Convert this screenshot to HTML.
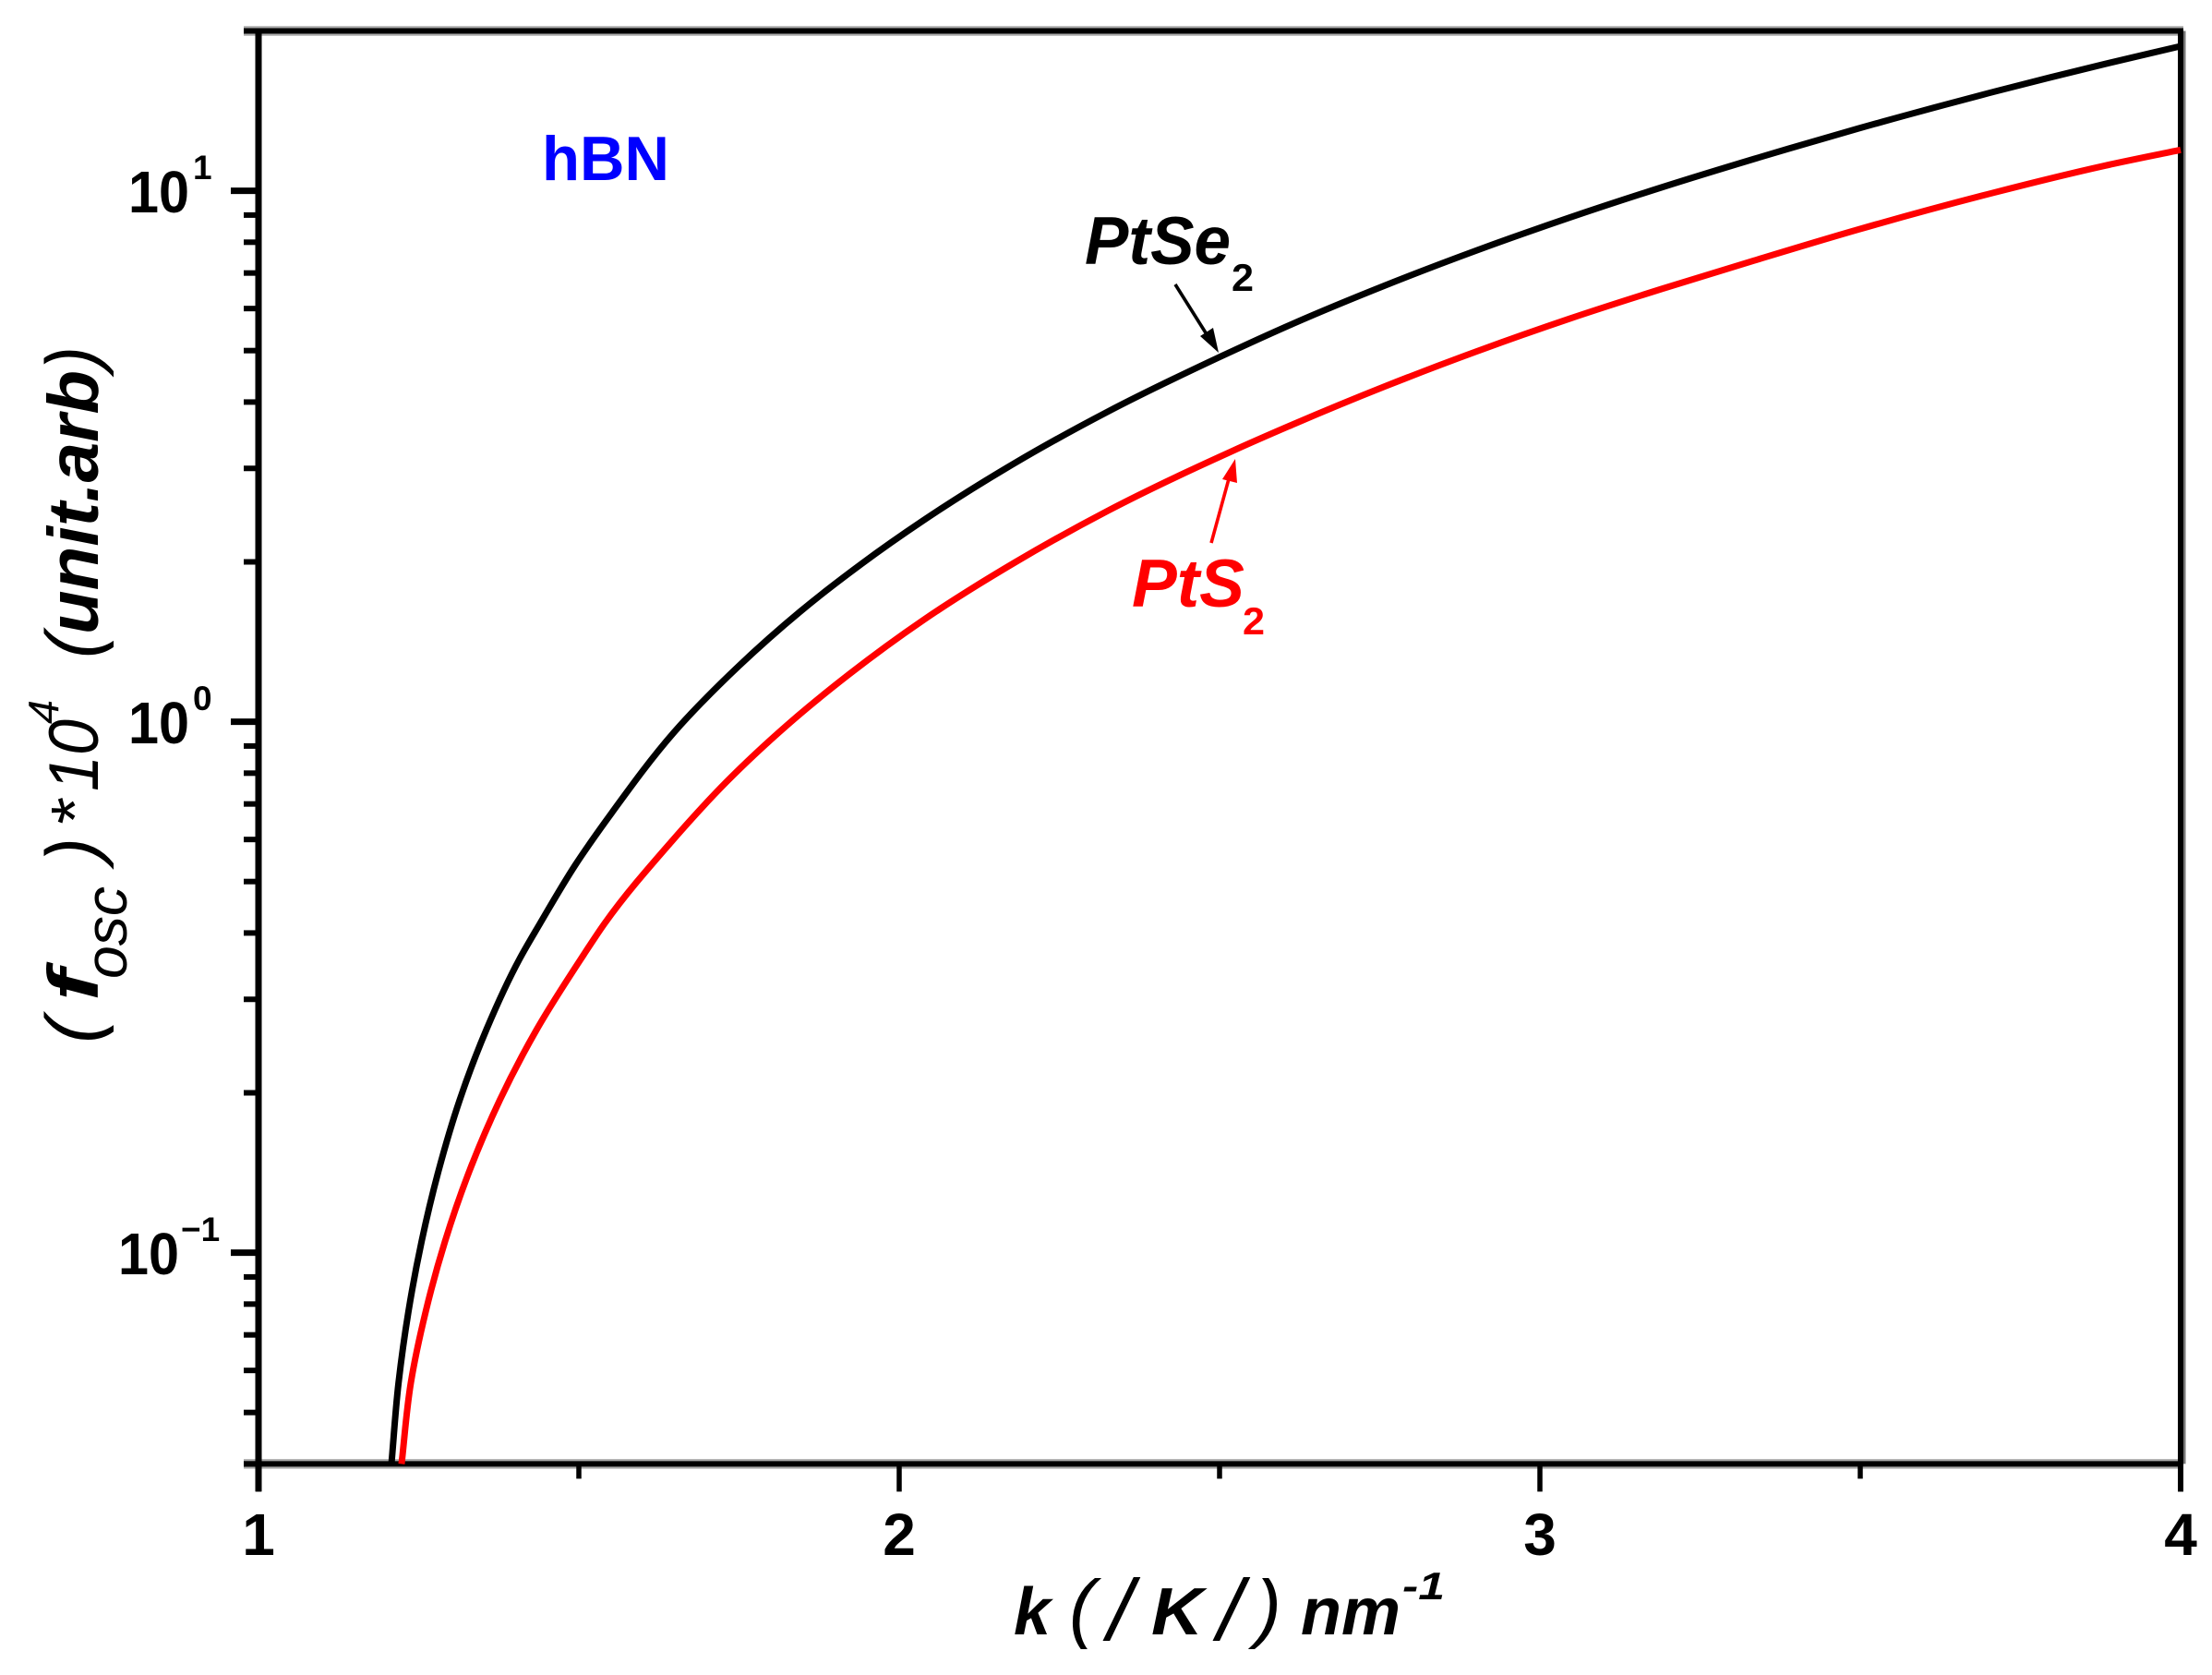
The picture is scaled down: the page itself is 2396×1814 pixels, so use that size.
<!DOCTYPE html>
<html lang="en">
<head>
<meta charset="utf-8">
<title>hBN oscillator strength vs k</title>
<style>
html,body{margin:0;padding:0;background:#fff;width:2396px;height:1814px;overflow:hidden}
svg{display:block;font-family:"Liberation Sans",Arial,sans-serif}
</style>
</head>
<body>
<svg id="chart" xmlns="http://www.w3.org/2000/svg" width="2396" height="1814" viewBox="0 0 2396 1814">
  <rect x="0" y="0" width="2396" height="1814" fill="#fff"/>
  <g id="axes"></g>
  <g id="series"></g>

  <text x="587" y="195" font-size="68" font-weight="700" fill="#0000ff" textLength="138" lengthAdjust="spacingAndGlyphs">hBN</text>

  <g>
    <text x="1175" y="286" font-size="73" font-weight="700" font-style="italic" fill="#000" textLength="158" lengthAdjust="spacingAndGlyphs">PtSe</text>
    <text x="1334" y="315" font-size="42" font-weight="700" fill="#000" textLength="24" lengthAdjust="spacingAndGlyphs">2</text>
    <line x1="1273" y1="308" x2="1312" y2="370" stroke="#000" stroke-width="3.6"/>
    <polygon points="1320,382 1300,364 1314,355" fill="#000"/>
  </g>

  <g>
    <text x="1226" y="657" font-size="73" font-weight="700" font-style="italic" fill="#ff0000" textLength="122" lengthAdjust="spacingAndGlyphs">PtS</text>
    <text x="1346" y="687" font-size="42" font-weight="700" fill="#ff0000" textLength="24" lengthAdjust="spacingAndGlyphs">2</text>
    <line x1="1312" y1="588" x2="1332" y2="515" stroke="#ff0000" stroke-width="3.6"/>
    <polygon points="1338,497 1340,523 1324,519" fill="#ff0000"/>
  </g>

  <g fill="#000">
    <text x="1098" y="1770" font-size="72" font-weight="700" font-style="italic" textLength="40" lengthAdjust="spacingAndGlyphs">k</text>
    <text x="1158" y="1769" font-size="83" font-style="italic" textLength="28" lengthAdjust="spacingAndGlyphs">(</text>
    <text x="1200" y="1776" font-size="94" font-style="italic" textLength="27" lengthAdjust="spacingAndGlyphs">/</text>
    <text x="1247" y="1770" font-size="72" font-weight="700" font-style="italic" textLength="56" lengthAdjust="spacingAndGlyphs">K</text>
    <text x="1319" y="1776" font-size="94" font-style="italic" textLength="27" lengthAdjust="spacingAndGlyphs">/</text>
    <text x="1360" y="1769" font-size="83" font-style="italic" textLength="28" lengthAdjust="spacingAndGlyphs">)</text>
    <text x="1409" y="1770" font-size="72" font-weight="700" font-style="italic" textLength="108" lengthAdjust="spacingAndGlyphs">nm</text>
    <text x="1519" y="1732" font-size="42" font-weight="700" font-style="italic" textLength="46" lengthAdjust="spacingAndGlyphs">-1</text>
  </g>

  <g fill="#000">
    <text transform="translate(106,1130) rotate(-90)" font-size="81" font-style="italic" textLength="28" lengthAdjust="spacingAndGlyphs">(</text>
    <text transform="translate(106,1084) rotate(-90)" font-size="77" font-weight="700" font-style="italic" textLength="34" lengthAdjust="spacingAndGlyphs">f</text>
    <text transform="translate(137,1060) rotate(-90)" font-size="64" font-style="italic" textLength="100" lengthAdjust="spacingAndGlyphs">osc</text>
    <text transform="translate(106,934) rotate(-90)" font-size="81" font-style="italic" textLength="27" lengthAdjust="spacingAndGlyphs">)</text>
    <text transform="translate(106,896) rotate(-90)" font-size="72" font-style="italic" textLength="30" lengthAdjust="spacingAndGlyphs">*</text>
    <text transform="translate(106,857) rotate(-90)" font-size="76" font-style="italic" textLength="78" lengthAdjust="spacingAndGlyphs">10</text>
    <text transform="translate(63,784) rotate(-90)" font-size="46" font-style="italic" textLength="26" lengthAdjust="spacingAndGlyphs">4</text>
    <text transform="translate(106,713) rotate(-90)" font-size="81" font-style="italic" textLength="27" lengthAdjust="spacingAndGlyphs">(</text>
    <text transform="translate(106,687) rotate(-90)" font-size="77" font-weight="700" font-style="italic" textLength="286" lengthAdjust="spacingAndGlyphs">unit.arb</text>
    <text transform="translate(106,401) rotate(-90)" font-size="81" font-style="italic" textLength="26" lengthAdjust="spacingAndGlyphs">)</text>
  </g>
</svg>

<script>
const ptse2K = [1.2075,1.2186,1.2339,1.2546,1.281,1.3141,1.3559,1.4078,1.4395,1.4942,1.5523,1.6484,1.7493,1.8454,1.9409,2.0375,2.1816,2.3256,2.4986,2.6138,2.7579,2.902,3.0461,3.1902,3.3343,3.4971,3.6902,3.8818,4.0];
const ptse2F = [0.04,0.0569,0.0773,0.105,0.1426,0.194,0.2634,0.358,0.417,0.5366,0.676,0.9546,1.272,1.612,1.982,2.393,3.076,3.837,4.853,5.614,6.63,7.727,8.90,10.15,11.48,13.10,15.16,17.33,18.72];
const pts2K = [1.2233,1.2378,1.2608,1.2911,1.3293,1.3768,1.4344,1.5036,1.5403,1.6437,1.7301,1.8256,1.9222,2.0375,2.1816,2.3256,2.5173,2.6138,2.7579,2.902,3.0461,3.1902,3.3343,3.4971,3.6902,3.8818,4.0];
const pts2F = [0.04,0.0569,0.0773,0.105,0.1426,0.194,0.2634,0.358,0.417,0.5929,0.7697,0.9865,1.2295,1.5535,1.9985,2.4961,3.224,3.627,4.28,4.986,5.741,6.534,7.388,8.455,9.79,11.15,11.94];
const xMajorTicks = [1,2,3,4];
const xMinorTicks = [1.5,2.5,3.5];
const xTickLabels = ["1","2","3","4"];
const yMajorTicks = [10,1,0.1];
const yTickExponents = ["1","0","\u22121"];
const yMinorTicks = [20,9,8,7,6,5,4,3,2,0.9,0.8,0.7,0.6,0.5,0.4,0.3,0.2,0.09,0.08,0.07,0.06,0.05,0.04];

const NS = "http://www.w3.org/2000/svg";
function xScale(k){ return 280 + (k - 1) * 694; }
function yScale(v){ return 206.6 + (1 - Math.log10(v)) * 575; }

function make(tag, attrs, parent){
  const el = document.createElementNS(NS, tag);
  for (const key in attrs) el.setAttribute(key, attrs[key]);
  parent.appendChild(el);
  return el;
}

const axes = document.getElementById("axes");
const seriesLayer = document.getElementById("series");

const left = xScale(1), right = xScale(4), top_ = yScale(20), bottom = yScale(0.04);

/* frame */
const topHalo = make("line", {x1:264, x2:right+3, y1:top_, y2:top_, stroke:"#aaaaaa", "stroke-width":10.5}, axes);


const bottomHalo = make("line", {x1:264, x2:right+3, y1:bottom, y2:bottom, stroke:"#aaaaaa", "stroke-width":10.5}, axes);


const rightHalo = make("line", {x1:right+1.5, x2:right+1.5, y1:top_, y2:bottom, stroke:"#777777", "stroke-width":8}, axes);



const topAxis = make("line", {x1:264, x2:right+3, y1:top_, y2:top_, stroke:"#000", "stroke-width":6}, axes);


const bottomAxis = make("line", {x1:264, x2:right+3, y1:bottom, y2:bottom, stroke:"#000", "stroke-width":6}, axes);


const leftAxis = make("line", {x1:left, x2:left, y1:top_-3, y2:bottom+30, stroke:"#000", "stroke-width":7}, axes);


const rightAxis = make("line", {x1:right, x2:right, y1:top_, y2:bottom+30, stroke:"#000", "stroke-width":6}, axes);



/* x ticks */
xMajorTicks.forEach(function(k, i){
  const tick = make("line", {x1:xScale(k), x2:xScale(k), y1:bottom, y2:bottom+30, stroke:"#000", "stroke-width":5.5}, axes);
  
  
  const label = make("text", {x:xScale(k), y:1684, "font-size":64, "font-weight":700, "text-anchor":"middle", fill:"#000"}, axes);
  
  
  label.textContent = xTickLabels[i];
});
xMinorTicks.forEach(function(k){
  const tick = make("line", {x1:xScale(k), x2:xScale(k), y1:bottom, y2:bottom+16, stroke:"#000", "stroke-width":5.5}, axes);
  
  
});

/* y ticks */
yMajorTicks.forEach(function(v, i){
  const y = yScale(v);
  const negative = yTickExponents[i].length > 1;
  const tick = make("line", {x1:250, x2:left, y1:y, y2:y, stroke:"#000", "stroke-width":7}, axes);
  
  
  const base = make("text", {x:negative ? 194 : 205, y:y+23.5, "font-size":64, "font-weight":700, "text-anchor":"end", fill:"#000", textLength:66, lengthAdjust:"spacingAndGlyphs"}, axes);
  
  
  base.textContent = "10";
  const exp = make("text", {x:negative ? 196 : 209, y:y-12.5, "font-size":37, "font-weight":700, fill:"#000"}, axes);
  
  
  exp.textContent = yTickExponents[i];
});
yMinorTicks.forEach(function(v){
  const y = yScale(v);
  const tick = make("line", {x1:264, x2:left, y1:y, y2:y, stroke:"#000", "stroke-width":6}, axes);
  
  
});

/* curves: cubic segments, tangents weighted toward the shorter neighbouring chord */
function curvePath(ks, vs){
  const pts = ks.map(function(k, i){ return [xScale(k), yScale(vs[i])]; });
  function dist(a, b){ return Math.hypot(a[0]-b[0], a[1]-b[1]); }
  function tangent(i){
    if (i === 0 || i === pts.length - 1){
      const a = pts[Math.max(i-1, 0)], b = pts[Math.min(i+1, pts.length-1)];
      const len = dist(a, b) || 1;
      return [(b[0]-a[0]) / len, (b[1]-a[1]) / len];
    }
    const p0 = pts[i-1], p1 = pts[i], p2 = pts[i+1];
    const d1 = dist(p0, p1), d2 = dist(p1, p2);
    const tx = (d2 * (p1[0]-p0[0]) / d1 + d1 * (p2[0]-p1[0]) / d2) / (d1 + d2);
    const ty = (d2 * (p1[1]-p0[1]) / d1 + d1 * (p2[1]-p1[1]) / d2) / (d1 + d2);
    const len = Math.hypot(tx, ty) || 1;
    return [tx / len, ty / len];
  }
  let d = "M" + pts[0][0].toFixed(2) + " " + pts[0][1].toFixed(2);
  for (let i = 0; i < pts.length - 1; i++){
    const p1 = pts[i], p2 = pts[i+1];
    const seg = dist(p1, p2) / 3;
    const t1 = tangent(i), t2 = tangent(i+1);
    d += "C" + (p1[0]+t1[0]*seg).toFixed(2) + " " + (p1[1]+t1[1]*seg).toFixed(2) + " " +
         (p2[0]-t2[0]*seg).toFixed(2) + " " + (p2[1]-t2[1]*seg).toFixed(2) + " " +
         p2[0].toFixed(2) + " " + p2[1].toFixed(2);
  }
  return d;
}
const ptse2Line = make("path", {d:curvePath(ptse2K, ptse2F), fill:"none", stroke:"#000", "stroke-width":7, "stroke-linejoin":"round"}, seriesLayer);


const pts2Line = make("path", {d:curvePath(pts2K, pts2F), fill:"none", stroke:"#ff0000", "stroke-width":7, "stroke-linejoin":"round"}, seriesLayer);


</script>
</body>
</html>
